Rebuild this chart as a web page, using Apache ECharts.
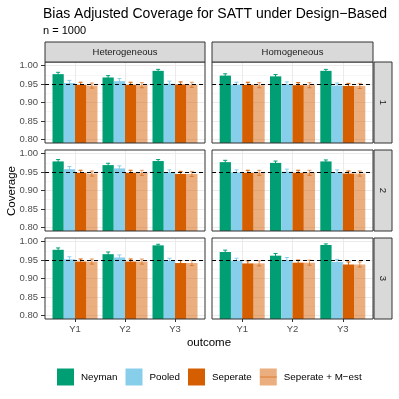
<!DOCTYPE html>
<html><head><meta charset="utf-8">
<script src="https://cdn.jsdelivr.net/npm/echarts@6/dist/echarts.min.js"></script>
<style>html,body{margin:0;padding:0;background:#fff}#c{width:399px;height:399px}</style>
</head><body><div id="c"></div>
<script>
// ---- data ----
const categories = ['Y1', 'Y2', 'Y3'];
const methods = ['Neyman', 'Pooled', 'Seperate', 'Seperate + M\u2212est'];
const columns = ['Heterogeneous', 'Homogeneous'];
const rows = ['1', '2', '3'];
const yTicks = [0.80, 0.85, 0.90, 0.95, 1.00];
const yMinor = [0.825, 0.875, 0.925, 0.975];
const target = 0.95;

// coverage: rows = methods (Neyman, Pooled, Seperate, Seperate + M-est), cols = Y1..Y3
const cov_het_1 = [[0.977, 0.968, 0.986], [0.953, 0.958, 0.951], [0.948, 0.948, 0.949], [0.946, 0.947, 0.948]];
const cov_hom_1 = [[0.973, 0.971, 0.986], [0.948, 0.949, 0.946], [0.948, 0.947, 0.945], [0.947, 0.947, 0.945]];
const cov_het_2 = [[0.979, 0.969, 0.980], [0.958, 0.960, 0.949], [0.948, 0.948, 0.945], [0.946, 0.948, 0.945]];
const cov_hom_2 = [[0.977, 0.975, 0.979], [0.949, 0.951, 0.949], [0.948, 0.948, 0.946], [0.948, 0.948, 0.946]];
const cov_het_3 = [[0.978, 0.966, 0.990], [0.952, 0.957, 0.948], [0.946, 0.946, 0.942], [0.946, 0.946, 0.942]];
const cov_hom_3 = [[0.972, 0.962, 0.991], [0.948, 0.950, 0.945], [0.941, 0.943, 0.938], [0.941, 0.943, 0.938]];

// error bar half-widths (same layout)
const err_het_1 = [[0.005, 0.005, 0.004], [0.007, 0.007, 0.007], [0.007, 0.007, 0.007], [0.007, 0.007, 0.007]];
const err_hom_1 = [[0.005, 0.005, 0.004], [0.007, 0.007, 0.007], [0.007, 0.007, 0.007], [0.007, 0.007, 0.007]];
const err_het_2 = [[0.005, 0.005, 0.004], [0.007, 0.007, 0.007], [0.007, 0.007, 0.007], [0.007, 0.007, 0.007]];
const err_hom_2 = [[0.005, 0.005, 0.004], [0.007, 0.007, 0.007], [0.007, 0.007, 0.007], [0.007, 0.007, 0.007]];
const err_het_3 = [[0.005, 0.006, 0.003], [0.007, 0.007, 0.007], [0.007, 0.007, 0.007], [0.007, 0.007, 0.007]];
const err_hom_3 = [[0.005, 0.006, 0.003], [0.007, 0.007, 0.007], [0.007, 0.007, 0.007], [0.007, 0.007, 0.007]];

const panels = [
  [cov_het_1, err_het_1], [cov_hom_1, err_hom_1],
  [cov_het_2, err_het_2], [cov_hom_2, err_hom_2],
  [cov_het_3, err_het_3], [cov_hom_3, err_hom_3]
];

// ---- style / layout ----
const FONT = '"Liberation Sans", Arial, Helvetica, sans-serif';
const fills = ['#009E73', '#87CEEB', '#D55E00', 'rgba(213,94,0,0.5)'];
const errCols = ['#009E73', '#87CEEB', '#D55E00', 'rgba(213,94,0,0.6)'];
const colLeft = [45, 212], colW = [160, 161];
const rowTop = [62, 150, 238], rowH = 81;
const dodge = 0.225, capHalf = 0.04;

const grid = [], xAxis = [], yAxis = [], series = [], graphic = [];
const nP = panels.length;
for (let p = 0; p < nP; p++) {
  const r = Math.floor(p / 2), c = p % 2;
  grid.push({left: colLeft[c], top: rowTop[r], width: colW[c], height: rowH, show: false});
  const bottom = r === rows.length - 1, leftCol = c === 0;
  xAxis.push({
    type: 'value', gridIndex: p, min: 0.4, max: 3.6,
    axisLine: {show: false},
    axisTick: {show: bottom, customValues: [1, 2, 3], length: 3, lineStyle: {color: '#333', width: 1}},
    axisLabel: {show: bottom, customValues: [1, 2, 3], margin: 5, color: '#4D4D4D', fontSize: 9.5, fontFamily: FONT,
      formatter: v => categories[Math.round(v) - 1]},
    splitLine: {show: true, lineStyle: {color: '#EBEBEB', width: 1}}
  });
  yAxis.push({
    type: 'value', gridIndex: p, min: 0.79, max: 1.01,
    axisLine: {show: false},
    axisTick: {show: leftCol, customValues: yTicks, length: 4, lineStyle: {color: '#333', width: 1}},
    axisLabel: {show: leftCol, customValues: yTicks, margin: 7, color: '#4D4D4D', fontSize: 9.5, fontFamily: FONT,
      formatter: v => v.toFixed(2)},
    splitLine: {show: true, lineStyle: {color: '#EBEBEB', width: 1}}
  });
}
for (let p = 0; p < nP; p++) {
  yAxis.push({
    type: 'value', gridIndex: p, min: 0.79, max: 1.01, position: 'left',
    axisLine: {show: false}, axisLabel: {show: false},
    axisTick: {show: false, customValues: yMinor},
    splitLine: {show: true, lineStyle: {color: '#F2F2F2', width: 0.6}}
  });
}

for (let p = 0; p < nP; p++) {
  const [cov, err] = panels[p];
  methods.forEach((m, mi) => {
    series.push({
      type: 'bar', name: m, xAxisIndex: p, yAxisIndex: p,
      barWidth: 11.25, barGap: '0%',
      itemStyle: {color: fills[mi]},
      emphasis: {disabled: true},
      data: categories.map((cat, k) => [k + 1, cov[mi][k]])
    });
  });
}
for (let p = 0; p < nP; p++) {
  const [cov, err] = panels[p];
  methods.forEach((m, mi) => {
    const s = {
      type: 'custom', name: 'eb_' + mi, xAxisIndex: p, yAxisIndex: p, z: 3,
      silent: true,
      data: categories.map((cat, k) => [k + 1, cov[mi][k] - err[mi][k], cov[mi][k] + err[mi][k]]),
      renderItem: (params, api) => {
        const x = api.value(0) + (mi - 1.5) * dodge;
        const lo = api.value(1), hi = api.value(2);
        const a = api.coord([x, hi]), b = api.coord([x, lo]);
        const l1 = api.coord([x - capHalf, hi]), r1 = api.coord([x + capHalf, hi]);
        const l2 = api.coord([x - capHalf, lo]), r2 = api.coord([x + capHalf, lo]);
        const st = {stroke: errCols[mi], lineWidth: 1, fill: null};
        return {type: 'group', children: [
          {type: 'line', shape: {x1: a[0], y1: a[1], x2: b[0], y2: b[1]}, style: st},
          {type: 'line', shape: {x1: l1[0], y1: l1[1], x2: r1[0], y2: r1[1]}, style: st},
          {type: 'line', shape: {x1: l2[0], y1: l2[1], x2: r2[0], y2: r2[1]}, style: st}
        ]};
      }
    };
    if (mi === methods.length - 1) {
      s.markLine = {silent: true, symbol: ['none', 'none'], label: {show: false},
        lineStyle: {color: '#000', type: [4, 3], width: 1.1}, z: 10,
        data: [{yAxis: target}]};
    }
    series.push(s);
  });
}

// panel borders and strips
for (let p = 0; p < nP; p++) {
  const r = Math.floor(p / 2), c = p % 2;
  graphic.push({type: 'rect', z: 100, silent: true,
    shape: {x: colLeft[c], y: rowTop[r], width: colW[c], height: rowH},
    style: {fill: null, stroke: '#333333', lineWidth: 1}});
}
columns.forEach((name, c) => {
  graphic.push({type: 'rect', z: 100, shape: {x: colLeft[c], y: 42, width: colW[c], height: 20},
    style: {fill: '#D9D9D9', stroke: '#333333', lineWidth: 1}});
  graphic.push({type: 'text', z: 101, x: colLeft[c] + colW[c] / 2, y: 52,
    style: {text: name, fill: '#1A1A1A', font: '9.5px ' + FONT, align: 'center', verticalAlign: 'middle'}});
});
rows.forEach((name, r) => {
  graphic.push({type: 'rect', z: 100, shape: {x: 374, y: rowTop[r], width: 18, height: rowH},
    style: {fill: '#D9D9D9', stroke: '#333333', lineWidth: 1}});
  graphic.push({type: 'text', z: 101, x: 383, y: rowTop[r] + rowH / 2, rotation: -Math.PI / 2,
    style: {text: name, fill: '#1A1A1A', font: '9.5px ' + FONT, align: 'center', verticalAlign: 'middle'}});
});
// axis titles
graphic.push({type: 'text', x: 209, y: 343,
  style: {text: 'outcome', fill: '#000', font: '11.5px ' + FONT, align: 'center', verticalAlign: 'middle'}});
graphic.push({type: 'text', x: 12, y: 191, rotation: Math.PI / 2,
  style: {text: 'Coverage', fill: '#000', font: '11.5px ' + FONT, align: 'center', verticalAlign: 'middle'}});
// errorbar line in the M-est legend key
graphic.push({type: 'line', z: 200, silent: true, shape: {x1: 260, y1: 377, x2: 277, y2: 377},
  style: {stroke: 'rgba(213,94,0,0.6)', lineWidth: 1}});

const chart = echarts.init(document.getElementById('c'), null, {renderer: 'canvas'});
chart.setOption({
  animation: false,
  backgroundColor: '#fff',
  title: [
    {text: 'Bias Adjusted Coverage for SATT under Design\u2212Based', left: 43, top: 7, padding: 0,
      textStyle: {fontSize: 14, fontWeight: 'normal', color: '#000', fontFamily: FONT}},
    {text: 'n = 1000', left: 43, top: 25, padding: 0,
      textStyle: {fontSize: 11, fontWeight: 'normal', color: '#000', fontFamily: FONT}}
  ],
  legend: {
    data: methods, left: 57, top: 368.5, padding: 0, itemGap: 8,
    itemWidth: 17, itemHeight: 17, icon: 'rect',
    textStyle: {fontSize: 9.8, color: '#000', fontFamily: FONT, padding: [0, 0, 0, 2]},
    selectedMode: false
  },
  grid, xAxis, yAxis, series, graphic
});
</script>
</body></html>
